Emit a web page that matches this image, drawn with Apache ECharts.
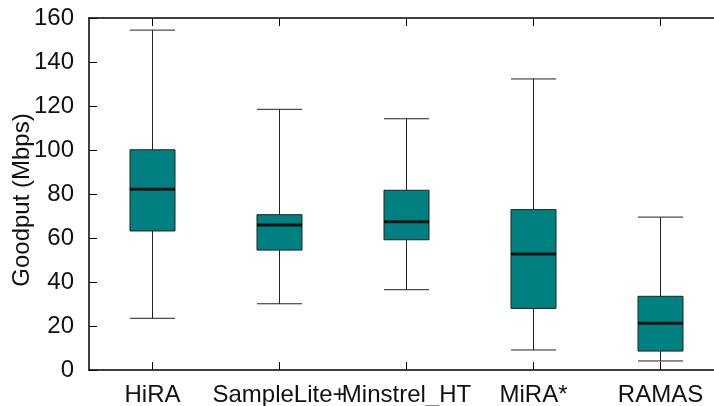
<!DOCTYPE html>
<html>
<head>
<meta charset="utf-8">
<script src="https://cdn.jsdelivr.net/npm/echarts@6/dist/echarts.min.js"></script>
<style>
  html, body { margin: 0; padding: 0; background: #fff; }
  #chart { width: 714px; height: 406px; }
</style>
</head>
<body>
<div id="chart"></div>
<script>
// categories (two neighbouring labels run into each other in the original)
const categories = ['HiRA', 'SampleLite+', 'Minstrel_HT', 'MiRA*', 'RAMAS'];
// [min, Q1, median, Q3, max] per category
const hira = [23.5, 63.2, 82.2, 100.1, 154.5];
const sampleLite = [30.1, 54.5, 65.9, 70.6, 118.5];
const minstrel = [36.5, 59.2, 67.4, 81.7, 114.2];
const mira = [9.1, 28.0, 52.7, 72.9, 132.3];
const ramas = [4.1, 8.6, 21.2, 33.5, 69.5];
const yTicks = { min: 0, max: 160, interval: 20 };

const boxes = [hira, sampleLite, minstrel, mira, ramas];
const medians = boxes.map((b, i) => [i, b[2]]);

const font = 'Liberation Sans';
const chart = echarts.init(document.getElementById('chart'));

const axisLine = { show: true, onZero: false, lineStyle: { color: '#000', width: 1.5 } };

chart.setOption({
    animation: false,
    grid: {
        left: 89,
        right: -10,
        top: 18,
        bottom: 36,
        containLabel: false,
        outerBoundsMode: 'none'
    },
    xAxis: [
        {
            type: 'category',
            data: categories,
            position: 'bottom',
            axisLine: axisLine,
            axisTick: { show: true, inside: true, alignWithLabel: true, length: 8, lineStyle: { color: '#000' } },
            axisLabel: { color: '#111', fontFamily: font, fontSize: 24, margin: 13, interval: 0 },
            splitLine: { show: false }
        },
        {
            type: 'category',
            data: categories,
            position: 'top',
            axisLine: axisLine,
            axisTick: { show: true, inside: true, alignWithLabel: true, length: 8, lineStyle: { color: '#000' } },
            axisLabel: { show: false },
            splitLine: { show: false }
        }
    ],
    yAxis: {
        type: 'value',
        min: yTicks.min,
        max: yTicks.max,
        interval: yTicks.interval,
        name: 'Goodput (Mbps)',
        nameLocation: 'middle',
        nameGap: 55,
        nameMoveOverlap: false,
        nameTextStyle: { color: '#111', fontFamily: font, fontSize: 24, padding: [0, 12, 0, 0] },
        axisLine: axisLine,
        axisTick: { show: true, inside: true, length: 8, lineStyle: { color: '#000' } },
        axisLabel: { color: '#111', fontFamily: font, fontSize: 24, margin: 15 },
        splitLine: { show: false }
    },
    series: [
        {
            type: 'boxplot',
            data: boxes,
            boxWidth: [45, 45],
            itemStyle: {
                color: '#008080',
                borderColor: '#222',
                borderWidth: 1
            }
        },
        {
            type: 'scatter',
            data: medians,
            symbol: 'rect',
            symbolSize: [45, 3],
            itemStyle: { color: '#000' },
            z: 5
        }
    ]
});
</script>
</body>
</html>
